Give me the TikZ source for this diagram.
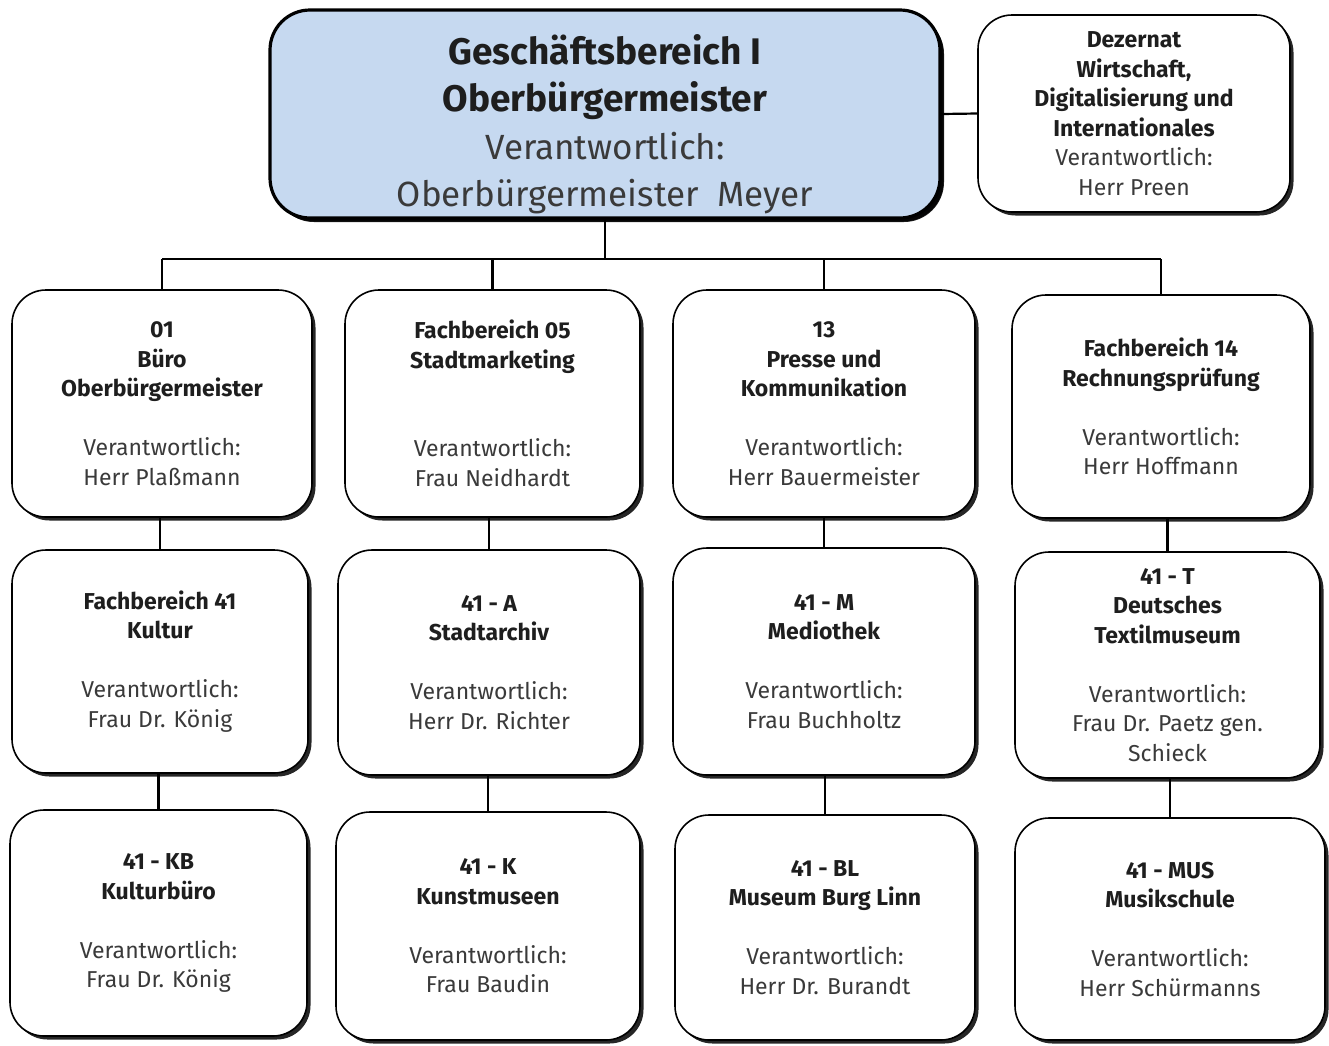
\documentclass[tikz,border=0pt]{standalone}
\usepackage{fontspec}
\setmainfont{Fira Sans}
\usetikzlibrary{shadows}
\definecolor{mainblue}{HTML}{C6D9F0}
\definecolor{txtdark}{HTML}{1E1E1E}
\definecolor{txtgray}{HTML}{3A3A3A}
\newcommand\hd[1]{\textcolor{txtdark}{\bfseries #1}}
\newcommand\bighd[1]{\textcolor{txtdark}{\fontsize{37}{47.5}\selectfont\bfseries #1}}
\tikzset{
  orgbox/.style={draw=black, line width=1.6pt, rounded corners=34pt, fill=white,
    align=center, inner sep=0pt, text=txtgray,
    font=\fontsize{23}{29.5}\selectfont,
    drop shadow={shadow xshift=3.5pt, shadow yshift=-3.5pt, fill=black, opacity=0.85}},
  topbox/.style={orgbox, line width=3.2pt, rounded corners=40pt, fill=mainblue,
    text=txtgray, font=\fontsize{35}{47.5}\selectfont,
    drop shadow={shadow xshift=4pt, shadow yshift=-4pt, fill=black, opacity=0.85}},
  conn/.style={draw=black, line width=2.2pt}
}
\begin{document}
\begin{tikzpicture}[x=1pt,y=-1pt]
\useasboundingbox[fill=white] (0,0) rectangle (1329,1045);

% top row
\node[topbox, minimum width=670pt, minimum height=208pt] (main) at (605,114) {};
\node[align=center, inner sep=0pt, text=txtgray, font=\fontsize{35}{47.5}\selectfont] (maintext) at (605,124)
  {\bighd{Geschäftsbereich I}\\\bighd{Oberbürgermeister}\\Verantwortlich:\\Oberbürgermeister\ \ Meyer};
\node[orgbox, minimum width=312pt, minimum height=197pt] (dez) at (1134,113.5)
  {\hd{Dezernat}\\\hd{Wirtschaft,}\\\hd{Digitalisierung und}\\\hd{Internationales}\\Verantwortlich:\\Herr Preen};

% row 1
\node[orgbox, minimum width=300pt, minimum height=227pt] (b11) at (162,403.5)
  {\hd{01}\\\hd{Büro}\\\hd{Oberbürgermeister}\\[29.5pt]Verantwortlich:\\Herr Plaßmann};
\node[orgbox, minimum width=295pt, minimum height=227pt] (b12) at (492.5,403.5)
  {\hd{Fachbereich 05}\\\hd{Stadtmarketing}\\[59pt]Verantwortlich:\\Frau Neidhardt};
\node[orgbox, minimum width=302pt, minimum height=227pt] (b13) at (824,403.5)
  {\hd{13}\\\hd{Presse und}\\\hd{Kommunikation}\\[29.5pt]Verantwortlich:\\Herr Bauermeister};
\node[orgbox, minimum width=298pt, minimum height=223pt] (b14) at (1161,406.5)
  {\hd{Fachbereich 14}\\\hd{Rechnungsprüfung}\\[29.5pt]Verantwortlich:\\Herr Hoffmann};

% row 2
\node[orgbox, minimum width=296pt, minimum height=223pt] (b21) at (160,661.5)
  {\hd{Fachbereich 41}\\\hd{Kultur}\\[29.5pt]Verantwortlich:\\Frau Dr. König};
\node[orgbox, minimum width=302pt, minimum height=225pt] (b22) at (489,662.5)
  {\hd{41 - A}\\\hd{Stadtarchiv}\\[29.5pt]Verantwortlich:\\Herr Dr. Richter};
\node[orgbox, minimum width=302pt, minimum height=227pt] (b23) at (824,661.5)
  {\hd{41 - M}\\\hd{Mediothek}\\[29.5pt]Verantwortlich:\\Frau Buchholtz};
\node[orgbox, minimum width=305pt, minimum height=226pt] (b24) at (1167.5,665)
  {\hd{41 - T}\\\hd{Deutsches}\\\hd{Textilmuseum}\\[29.5pt]Verantwortlich:\\Frau Dr. Paetz gen.\\Schieck};

% row 3
\node[orgbox, minimum width=297pt, minimum height=226pt] (b31) at (158.5,923)
  {\hd{41 - KB}\\\hd{Kulturbüro}\\[29.5pt]Verantwortlich:\\Frau Dr. König};
\node[orgbox, minimum width=304pt, minimum height=228pt] (b32) at (488,926)
  {\hd{41 - K}\\\hd{Kunstmuseen}\\[29.5pt]Verantwortlich:\\Frau Baudin};
\node[orgbox, minimum width=300pt, minimum height=225pt] (b33) at (825,927.5)
  {\hd{41 - BL}\\\hd{Museum Burg Linn}\\[29.5pt]Verantwortlich:\\Herr Dr. Burandt};
\node[orgbox, minimum width=310pt, minimum height=222pt] (b34) at (1170,929)
  {\hd{41 - MUS}\\\hd{Musikschule}\\[29.5pt]Verantwortlich:\\Herr Schürmanns};

% connectors
\coordinate (bus) at (605,259);
\draw[conn] (main.east) -- (dez.west);
\draw[conn] (main.south) -- (bus);
\draw[conn] (b11.north |- bus) -- (b14.north |- bus);
\foreach \b in {b11,b12,b13,b14}{
  \draw[conn] (\b.north) -- (\b.north |- bus);
}
\draw[conn] (b21.north) -- (b21.north |- b11.south);
\draw[conn] (b22.north) -- (b22.north |- b12.south);
\draw[conn] (b23.north) -- (b23.north |- b13.south);
\draw[conn] (b24.north) -- (b24.north |- b14.south);
\draw[conn] (b31.north) -- (b31.north |- b21.south);
\draw[conn] (b32.north) -- (b32.north |- b22.south);
\draw[conn] (b33.north) -- (b33.north |- b23.south);
\draw[conn] (b34.north) -- (b34.north |- b24.south);
\end{tikzpicture}
\end{document}
